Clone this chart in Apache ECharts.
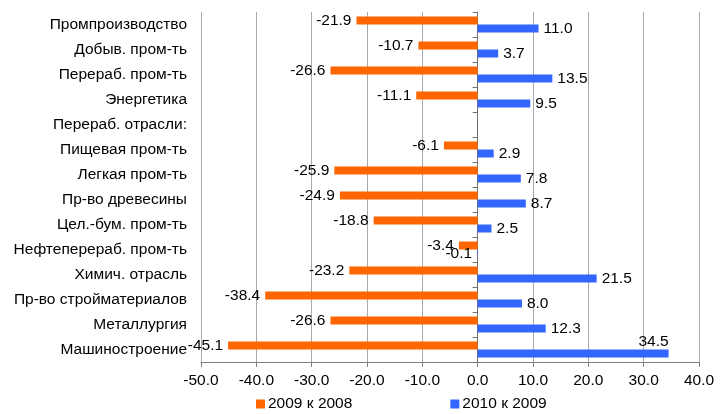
<!DOCTYPE html>
<html>
<head>
<meta charset="utf-8">
<script src="https://cdn.jsdelivr.net/npm/echarts@6/dist/echarts.min.js"></script>
<style>
  html, body { margin: 0; padding: 0; background: #fff; }
  #chart { width: 728px; height: 414px; }
</style>
</head>
<body>
<div id="chart"></div>
<script>
// Industry branches, top to bottom
const categories = [
  'Промпроизводство',
  'Добыв. пром-ть',
  'Перераб. пром-ть',
  'Энергетика',
  'Перераб. отрасли:',
  'Пищевая пром-ть',
  'Легкая пром-ть',
  'Пр-во древесины',
  'Цел.-бум. пром-ть',
  'Нефтеперераб. пром-ть',
  'Химич. отрасль',
  'Пр-во стройматериалов',
  'Металлургия',
  'Машиностроение'
];

// Change, %
const change2009 = [-21.9, -10.7, -26.6, -11.1, null, -6.1, -25.9, -24.9, -18.8, -3.4, -23.2, -38.4, -26.6, -45.1];
const change2010 = [11.0, 3.7, 13.5, 9.5, null, 2.9, 7.8, 8.7, 2.5, -0.1, 21.5, 8.0, 12.3, 34.5];

const seriesNames = ['2009 к 2008', '2010 к 2009'];
const xTicks = { min: -50, max: 40, step: 10 };

const FONT = '"Liberation Sans", Arial, sans-serif';
const FS = 15.5;
const fmt = v => (v == null ? '' : Number(v).toFixed(1));

// Labels sit at the outer end of each bar; values near the right edge
// get their label above the bar end instead
const toItems = (arr, cap) => arr.map(v => {
  if (v == null) return null;
  if (cap != null && v > cap) {
    return {
      value: v,
      label: { position: ['100%', 0], align: 'right', verticalAlign: 'bottom', distance: 0 }
    };
  }
  return { value: v, label: { position: v < 0 ? 'left' : 'right' } };
});

const labelStyle = {
  show: true,
  distance: 5,
  formatter: p => fmt(p.value),
  fontFamily: FONT,
  fontSize: FS,
  color: '#000'
};

const chart = echarts.init(document.getElementById('chart'), null, { renderer: 'canvas' });

chart.setOption({
  animation: false,
  backgroundColor: '#ffffff',
  textStyle: { fontFamily: FONT },
  grid: { left: 201, right: 29, top: 12, bottom: 52, containLabel: false },
  legend: {
    bottom: -3,
    left: 251,
    itemWidth: 9,
    itemHeight: 9,
    itemGap: 98,
    icon: 'rect',
    textStyle: { fontFamily: FONT, fontSize: FS, color: '#000', padding: [0, 0, 0, -2] },
    data: seriesNames
  },
  xAxis: {
    type: 'value',
    min: xTicks.min,
    max: xTicks.max,
    interval: xTicks.step,
    axisLine: { show: true, onZero: false, lineStyle: { color: '#808080', width: 1 } },
    axisTick: { show: true, length: 5, lineStyle: { color: '#808080' } },
    axisLabel: { fontFamily: FONT, fontSize: FS, color: '#000', margin: 11, formatter: fmt },
    splitLine: { show: true, lineStyle: { color: '#a8a8a8', width: 1 } }
  },
  yAxis: [
    {
      type: 'category',
      data: categories,
      inverse: true,
      axisLine: { show: false, onZero: false },
      axisTick: { show: false },
      axisLabel: { fontFamily: FONT, fontSize: FS, color: '#000', margin: 14 },
      splitLine: { show: false }
    },
    {
      // zero line with category separators
      type: 'category',
      data: categories,
      inverse: true,
      position: 'left',
      axisLine: { show: true, onZero: true, onZeroAxisIndex: 0, lineStyle: { color: '#707070', width: 1 } },
      axisTick: { show: true, length: 5, lineStyle: { color: '#707070' } },
      axisLabel: { show: false },
      splitLine: { show: false }
    }
  ],
  series: [
    {
      name: seriesNames[0],
      type: 'bar',
      yAxisIndex: 0,
      data: toItems(change2009),
      barWidth: 8,
      barGap: '0%',
      itemStyle: { color: '#ff6600' },
      label: Object.assign({ position: 'left' }, labelStyle)
    },
    {
      name: seriesNames[1],
      type: 'bar',
      yAxisIndex: 0,
      data: toItems(change2010, 30),
      barWidth: 8,
      barGap: '0%',
      itemStyle: { color: '#3366ff' },
      label: Object.assign({ position: 'right' }, labelStyle)
    }
  ]
});
</script>
</body>
</html>
